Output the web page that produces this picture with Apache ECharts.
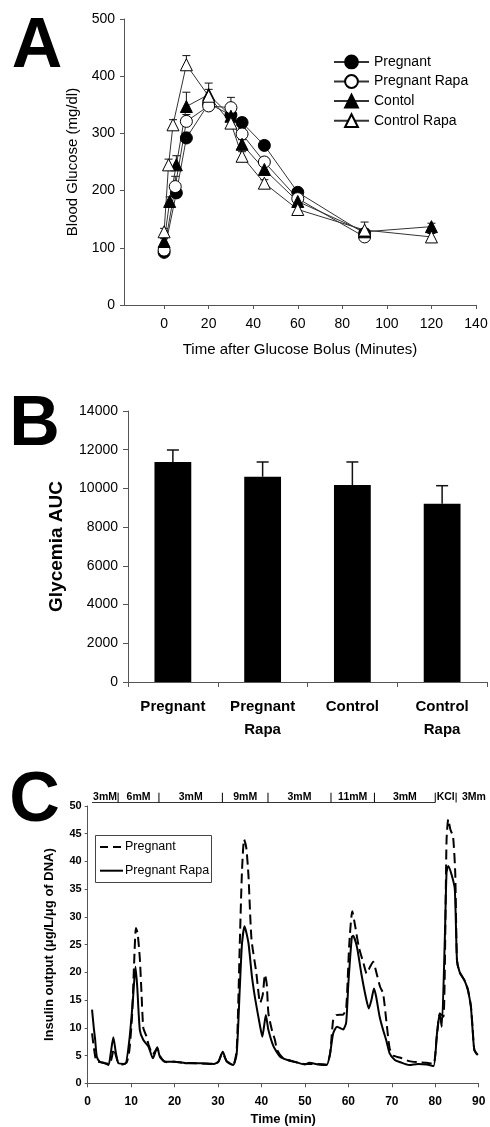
<!DOCTYPE html>
<html><head><meta charset="utf-8">
<script src="https://cdn.jsdelivr.net/npm/echarts@6/dist/echarts.min.js"></script>
<style>
html,body{margin:0;padding:0;background:#fff;}
.p{position:absolute;left:0;width:490px;}
#a{top:0;height:370px;} #b{top:370px;height:375px;} #c{top:745px;height:382px;}
</style></head><body>
<div id="a" class="p"></div><div id="b" class="p"></div><div id="c" class="p"></div>
<script>
// ---------- Panel A data ----------
const aXTicks = [0, 20, 40, 60, 80, 100, 120, 140];
const pregTimes = [0, 5.5, 10, 20, 30, 35, 45, 60, 90];
const pregMeans = [92, 196, 292, 352, 332, 319, 279, 197, 125];
const pregSem = [4, 8, 10, 12, 10, 8, 8, 6, 5];
const pregRapaTimes = [0, 5, 10, 20, 30, 35, 45, 60, 90];
const pregRapaMeans = [96, 207, 321, 348, 345, 299, 250, 186, 119];
const pregRapaSem = [4, 18, 12, 10, 18, 10, 8, 6, 5];
const ctrlTimes = [0, 2.5, 5.5, 10, 20, 30, 35, 45, 60, 90, 120];
const ctrlMeans = [111, 181, 245, 347, 368, 330, 281, 237, 181, 128, 137];
const ctrlSem = [5, 8, 16, 25, 20, 10, 8, 8, 6, 5, 6];
const ctrlRapaTimes = [0, 2, 4, 10, 20, 30, 35, 45, 60, 90, 120];
const ctrlRapaMeans = [128, 245, 315, 420, 365, 318, 260, 213, 167, 131, 119];
const ctrlRapaSem = [6, 10, 9, 16, 12, 8, 8, 6, 6, 14, 6];

// ---------- Panel B data ----------
const bCategories = ['Pregnant', 'Pregnant\nRapa', 'Control', 'Control\nRapa'];
const bMeans = [11365, 10606, 10177, 9211];
const bErrors = [620, 760, 1190, 930];

// ---------- Panel C data ----------
const pregnantC = [[1,9],[1.5,6],[2,4],[3,3.8],[4,3.6],[5,3.5],[5.5,4.5],[6,6.2],[6.5,5],[7,3.8],[8,3.4],[9,3.8],[9.6,6],[10.2,12],[10.7,22],[11.1,28],[11.5,27],[12,22.5],[12.4,16],[12.8,10],[13.5,8.5],[14,7],[15,5.2],[16,6.3],[16.6,5],[17.5,4],[18.5,3.8],[20,3.9],[22,3.7],[25,3.6],[28,3.5],[30,3.8],[31,5.5],[32,4],[33.5,3.4],[34.3,6],[35,25],[35.5,38],[36,44],[36.5,42.5],[37,37.5],[37.7,26],[38.8,20],[39.7,14.5],[40.3,16],[40.8,19.6],[41.2,18],[41.6,12.6],[42.4,9.6],[43.1,7.8],[43.6,6],[45,4.5],[47,4],[50,3.5],[53,3.5],[55,3.4],[55.8,5.4],[56.5,11.4],[57.2,12.3],[58.8,12.4],[59.5,13.5],[60.2,25],[60.9,31],[61.6,28.2],[62.4,24.6],[63.5,21.6],[64.2,19.8],[65,21],[65.7,21.9],[66.5,19.8],[67.3,17.4],[68,16.2],[68.8,10.8],[69.5,6.3],[70.3,5],[72,4.6],[74,4],[76,3.8],[78,3.7],[79.6,3.5],[80.3,8],[81.1,12.6],[81.9,12],[82.6,43.9],[83,47.6],[83.5,45.7],[84.1,44.5],[84.6,37.9],[85,22.2],[85.6,20],[86.7,18.6],[87.5,17],[88.2,14],[88.6,10],[89,6],[89.8,5]];
const pregnantRapaC = [[1,13.3],[1.4,10],[1.7,8],[2.1,4.8],[2.8,3.9],[4,3.6],[4.8,3.3],[5.3,5.4],[5.9,8.3],[6.5,5.4],[7.1,3.6],[8.6,3.5],[9.6,7.9],[10.4,15],[11,21],[11.4,17.4],[12,9.6],[12.8,7.8],[14,6.6],[15,4.5],[16,6.5],[16.6,4.8],[17.8,3.9],[20,3.9],[23,3.6],[26,3.6],[29,3.5],[30.1,3.9],[31.1,5.7],[32,3.9],[33.5,3.3],[34.3,5.4],[35,17],[35.5,25],[36.1,28.3],[37,25.3],[37.8,19.3],[38.6,15],[39.7,10.2],[40.2,8.4],[41,12.3],[41.6,9.6],[42.8,6.6],[44.3,4.8],[46,4.2],[48,3.8],[50,3.4],[51,3.7],[53,3.4],[55,3.3],[55.8,5.4],[56.5,9],[57.4,10.2],[58.8,9.7],[59.5,11],[60,18],[60.8,26.4],[61.1,26.6],[62,24.5],[63,19.7],[64,15.6],[64.7,13.5],[65.3,15],[65.9,17.1],[66.4,15.6],[67.2,12],[68,9.6],[68.7,7.8],[69.5,5.4],[70.7,4.2],[72,3.8],[74,3.3],[76,3.5],[78,3.4],[79.6,3.1],[80.4,9],[81,12.6],[81.5,10.2],[82.2,26],[82.6,38],[83,39.2],[83.8,37.5],[84.5,35],[85,22.2],[85.6,20.1],[86.7,18.6],[87.5,16.8],[88.2,13.8],[88.6,9.6],[89,6],[89.8,5.1]];
const stimLabels = ['3mM', '6mM', '3mM', '9mM', '3mM', '11mM', '3mM', 'KCl', '3Mm'];
const stimStart = [1, 7, 16.4, 31, 41.5, 56, 66, 80, 84.8];
const stimEnd = [7, 16.4, 31, 41.5, 56, 66, 80, 84.8, 93];

// ---------- helpers ----------
const FONT = "'Liberation Sans', Arial, sans-serif";
const AX = '#555';
function letter(t, x, y) {
  return {type: 'text', x: x, y: y, z: 10,
    style: {text: t, fill: '#000', font: 'bold 70px ' + FONT, align: 'center', verticalAlign: 'middle'}};
}
function errRender(hw, lw) {
  return function (params, api) {
    const x = api.value(0), m = api.value(1), e = api.value(2);
    const p0 = api.coord([x, m]);
    const p1 = api.coord([x, m + e]);
    return {type: 'group', children: [
      {type: 'line', shape: {x1: p0[0], y1: p0[1], x2: p1[0], y2: p1[1]}, style: {stroke: '#111', lineWidth: lw}},
      {type: 'line', shape: {x1: p1[0] - hw, y1: p1[1], x2: p1[0] + hw, y2: p1[1]}, style: {stroke: '#111', lineWidth: lw}}
    ]};
  };
}
const plainNum = v => String(v);

// ---------- Chart A ----------
const chartA = echarts.init(document.getElementById('a'), null, {renderer: 'canvas'});
function lineSeries(name, times, means, symbol, filled) {
  return {type: 'line', name: name, data: times.map((t, i) => [t, means[i]]), symbol: symbol, symbolSize: 12,
    lineStyle: {color: '#333', width: 1}, itemStyle: {color: filled ? '#000' : '#fff', borderColor: '#000', borderWidth: 1},
    emphasis: {disabled: true}, z: 3};
}
function errSeries(times, means, sem) {
  return {type: 'custom', renderItem: errRender(4, 1), data: times.map((t, i) => [t, means[i], sem[i]]),
    encode: {x: 0, y: 1}, z: 2, silent: true};
}
chartA.setOption({
  animation: false,
  textStyle: {fontFamily: FONT},
  grid: {left: 124, top: 19, width: 352, height: 286, outerBoundsMode: 'none', containLabel: false},
  legend: {orient: 'vertical', left: 333, top: 54.5, padding: 0, itemWidth: 35, itemHeight: 16, itemGap: 4.8,
    selectedMode: false, textStyle: {fontSize: 14, color: '#000', fontFamily: FONT},
    data: ['Pregnant', 'Pregnant Rapa', 'Contol', 'Control Rapa']},
  xAxis: {type: 'value', min: -18, max: 140,
    name: 'Time after Glucose Bolus (Minutes)', nameLocation: 'middle', nameGap: 37,
    nameTextStyle: {fontSize: 15, color: '#000', fontFamily: FONT},
    axisLine: {onZero: false, lineStyle: {color: AX, width: 1}},
    axisTick: {customValues: aXTicks, length: 4, lineStyle: {color: AX}},
    axisLabel: {customValues: aXTicks, fontSize: 14, color: '#000', margin: 12, fontFamily: FONT},
    splitLine: {show: false}},
  yAxis: {type: 'value', min: 0, max: 500, interval: 100,
    name: 'Blood Glucose (mg/dl)', nameLocation: 'middle', nameGap: 42,
    nameTextStyle: {fontSize: 15, color: '#000', fontFamily: FONT},
    axisLine: {show: true, onZero: false, lineStyle: {color: AX, width: 1}},
    axisTick: {show: true, length: 4, lineStyle: {color: AX}},
    axisLabel: {fontSize: 14, color: '#000', margin: 9, fontFamily: FONT, formatter: plainNum},
    splitLine: {show: false}},
  series: [
    errSeries(pregTimes, pregMeans, pregSem),
    errSeries(pregRapaTimes, pregRapaMeans, pregRapaSem),
    errSeries(ctrlTimes, ctrlMeans, ctrlSem),
    errSeries(ctrlRapaTimes, ctrlRapaMeans, ctrlRapaSem),
    lineSeries('Pregnant', pregTimes, pregMeans, 'circle', true),
    lineSeries('Pregnant Rapa', pregRapaTimes, pregRapaMeans, 'circle', false),
    lineSeries('Contol', ctrlTimes, ctrlMeans, 'triangle', true),
    lineSeries('Control Rapa', ctrlRapaTimes, ctrlRapaMeans, 'triangle', false)
  ],
  graphic: [letter('A', 37, 48)]
});

// ---------- Chart B ----------
const chartB = echarts.init(document.getElementById('b'), null, {renderer: 'canvas'});
chartB.setOption({
  animation: false,
  textStyle: {fontFamily: FONT},
  grid: {left: 128, top: 41, width: 359, height: 271, outerBoundsMode: 'none', containLabel: false},
  xAxis: {type: 'category', data: bCategories,
    axisLine: {lineStyle: {color: AX, width: 1}},
    axisTick: {show: true, length: 5, lineStyle: {color: AX}},
    axisLabel: {fontSize: 15, fontWeight: 'bold', color: '#000', lineHeight: 23, margin: 13, fontFamily: FONT, interval: 0}},
  yAxis: {type: 'value', min: 0, max: 14000, interval: 2000,
    name: 'Glycemia AUC', nameLocation: 'middle', nameGap: 62,
    nameTextStyle: {fontSize: 19, fontWeight: 'bold', color: '#000', fontFamily: FONT},
    axisLine: {show: true, onZero: false, lineStyle: {color: AX, width: 1}},
    axisTick: {show: true, length: 5, lineStyle: {color: AX}},
    axisLabel: {fontSize: 14, color: '#000', margin: 10, fontFamily: FONT, formatter: plainNum},
    splitLine: {show: false}},
  series: [
    {type: 'bar', data: bMeans, barWidth: '41%', itemStyle: {color: '#000'}, emphasis: {disabled: true}, z: 2},
    {type: 'custom', renderItem: errRender(6, 1.5), data: bMeans.map((m, i) => [i, m, bErrors[i]]),
      encode: {x: 0, y: 1}, z: 3, silent: true}
  ],
  graphic: [letter('B', 34.5, 55.5)]
});

// ---------- Chart C ----------
const chartC = echarts.init(document.getElementById('c'), null, {renderer: 'canvas'});
chartC.setOption({
  animation: false,
  textStyle: {fontFamily: FONT},
  grid: {left: 87.7, top: 61, width: 391, height: 277.3, outerBoundsMode: 'none', containLabel: false},
  xAxis: {type: 'value', min: 0, max: 90, interval: 10,
    name: 'Time (min)', nameLocation: 'middle', nameGap: 30,
    nameTextStyle: {fontSize: 13, fontWeight: 'bold', color: '#000', fontFamily: FONT},
    axisLine: {onZero: false, lineStyle: {color: AX, width: 1}},
    axisTick: {show: true, length: 4, lineStyle: {color: AX}},
    axisLabel: {fontSize: 12, fontWeight: 'bold', color: '#000', margin: 12, fontFamily: FONT},
    splitLine: {show: false}},
  yAxis: {type: 'value', min: 0, max: 50, interval: 5,
    name: 'Insulin output (\u03bcg/L/\u03bcg of DNA)', nameLocation: 'middle', nameGap: 32,
    nameTextStyle: {fontSize: 13, fontWeight: 'bold', color: '#000', fontFamily: FONT},
    axisLine: {show: true, onZero: false, lineStyle: {color: AX, width: 1}},
    axisTick: {show: true, length: 3, lineStyle: {color: AX}},
    axisLabel: {fontSize: 11, fontWeight: 'bold', color: '#000', margin: 6, fontFamily: FONT},
    splitLine: {show: false}},
  series: [
    {type: 'line', name: 'Pregnant', data: pregnantC, symbol: 'none', smooth: 0.2,
      lineStyle: {color: '#000', width: 2, type: [10, 5]}, emphasis: {disabled: true}},
    {type: 'line', name: 'Pregnant Rapa', data: pregnantRapaC, symbol: 'none', smooth: 0.2,
      lineStyle: {color: '#000', width: 2}, emphasis: {disabled: true}}
  ]
});
(function () {
  const g = [letter('C', 34.5, 57)];
  // legend box
  g.push({type: 'rect', shape: {x: 95.5, y: 90.5, width: 116, height: 47}, style: {fill: '#fff', stroke: '#444', lineWidth: 1}, z: 5});
  g.push({type: 'line', shape: {x1: 100, y1: 102, x2: 123, y2: 102}, style: {stroke: '#000', lineWidth: 2, lineDash: [8, 5]}, z: 6});
  g.push({type: 'line', shape: {x1: 100, y1: 125.7, x2: 123, y2: 125.7}, style: {stroke: '#000', lineWidth: 2}, z: 6});
  g.push({type: 'text', x: 125, y: 102, z: 6, style: {text: 'Pregnant', fill: '#000', font: '12.5px ' + FONT, verticalAlign: 'middle'}});
  g.push({type: 'text', x: 125, y: 125.7, z: 6, style: {text: 'Pregnant Rapa', fill: '#000', font: '12.5px ' + FONT, verticalAlign: 'middle'}});
  // stimulation bar
  const px = t => chartC.convertToPixel({gridIndex: 0}, [t, 50])[0];
  g.push({type: 'line', shape: {x1: px(stimStart[0]), y1: 57.5, x2: px(stimEnd[6]), y2: 57.5}, style: {stroke: '#333', lineWidth: 1}});
  stimLabels.forEach((lab, i) => {
    const xs = px(stimStart[i]), xe = px(stimEnd[i]);
    g.push({type: 'text', x: (xs + xe) / 2, y: 52.3, style: {text: lab, fill: '#000', font: 'bold 10.5px ' + FONT, align: 'center', verticalAlign: 'middle'}});
    if (i > 0) g.push({type: 'line', shape: {x1: xs, y1: 47.7, x2: xs, y2: 57.5}, style: {stroke: '#000', lineWidth: 1}});
  });
  chartC.setOption({graphic: g});
})();
</script>
</body></html>
